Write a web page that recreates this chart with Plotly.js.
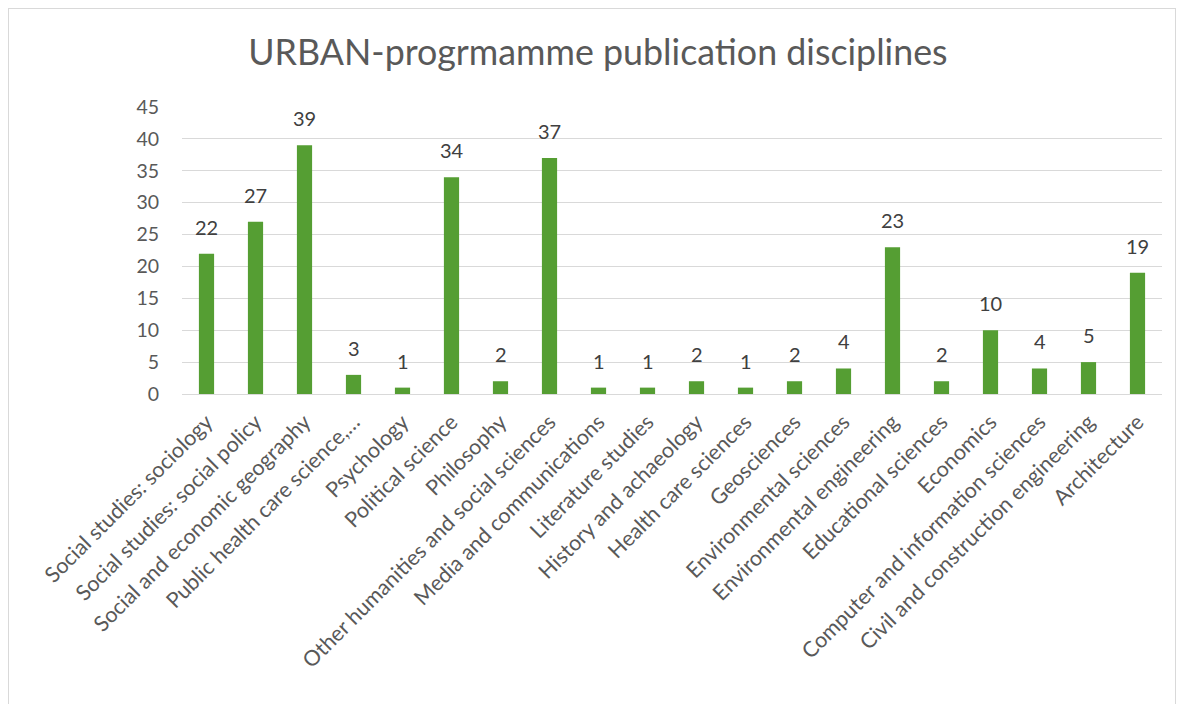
<!DOCTYPE html>
<html>
<head>
<meta charset="utf-8">
<script src="https://cdn.plot.ly/plotly-3.0.1.min.js"></script>
<style>
html,body{margin:0;padding:0;background:#fff;}
#frame{position:absolute;left:8px;top:8px;width:1168px;height:720px;border:1px solid #d9d9d9;box-sizing:border-box;}
#chart{position:absolute;left:0;top:0;width:1184px;height:704px;}
</style>
</head>
<body>
<div id="frame"></div>
<div id="chart"></div>
<script>
const categories = [
  "Social studies: sociology",
  "Social studies: social policy",
  "Social and economic geography",
  "Public health care science,…",
  "Psychology",
  "Political science",
  "Philosophy",
  "Other humanities and social sciences",
  "Media and communications",
  "Literature studies",
  "History and achaeology",
  "Health care sciences",
  "Geosciences",
  "Environmental sciences",
  "Environmental engineering",
  "Educational sciences",
  "Economics",
  "Computer and information sciences",
  "Civil and construction engineering",
  "Architecture"
];
const values = [22, 27, 39, 3, 1, 34, 2, 37, 1, 1, 2, 1, 2, 4, 23, 2, 10, 4, 5, 19];
const yTicks = [0, 5, 10, 15, 20, 25, 30, 35, 40, 45];

const font = "Lato, 'Source Sans Pro', 'Open Sans', sans-serif";

const annotations = categories.map((c, i) => ({
  x: c, y: values[i], xref: 'x', yref: 'y',
  text: String(values[i]),
  showarrow: false,
  yanchor: 'middle',
  yshift: 27,
  font: {family: font, size: 20, color: '#404040'}
}));

Plotly.newPlot('chart', [{
  type: 'bar',
  x: categories,
  y: values,
  marker: {color: '#559e33'},
  hoverinfo: 'x+y'
}], {
  width: 1184,
  height: 704,
  paper_bgcolor: 'rgba(0,0,0,0)',
  plot_bgcolor: 'rgba(0,0,0,0)',
  margin: {l: 182, r: 22, t: 107, b: 310},
  bargap: 0.69,
  annotations: annotations,
  title: {
    text: 'URBAN-progrmamme publication disciplines',
    font: {family: font, size: 35.8, color: '#595959'},
    x: 0.505, xanchor: 'center',
    y: 0.925, yanchor: 'middle'
  },
  xaxis: {
    type: 'category',
    tickangle: -45,
    tickfont: {family: font, size: 21.5, color: '#595959'},
    showline: true,
    linecolor: '#d9d9d9',
    linewidth: 1,
    ticks: '',
    showgrid: false,
    ticklabelstandoff: 6,
    automargin: false
  },
  yaxis: {
    range: [0, 45],
    tickvals: yTicks,
    ticktext: yTicks.map(String),
    tickfont: {family: font, size: 19.5, color: '#595959'},
    gridcolor: '#d9d9d9',
    gridwidth: 1,
    zeroline: false,
    showline: false,
    ticks: '',
    ticklabelstandoff: 22,
    automargin: false
  },
  showlegend: false
}, {displayModeBar: false, staticPlot: true});
</script>
</body>
</html>
